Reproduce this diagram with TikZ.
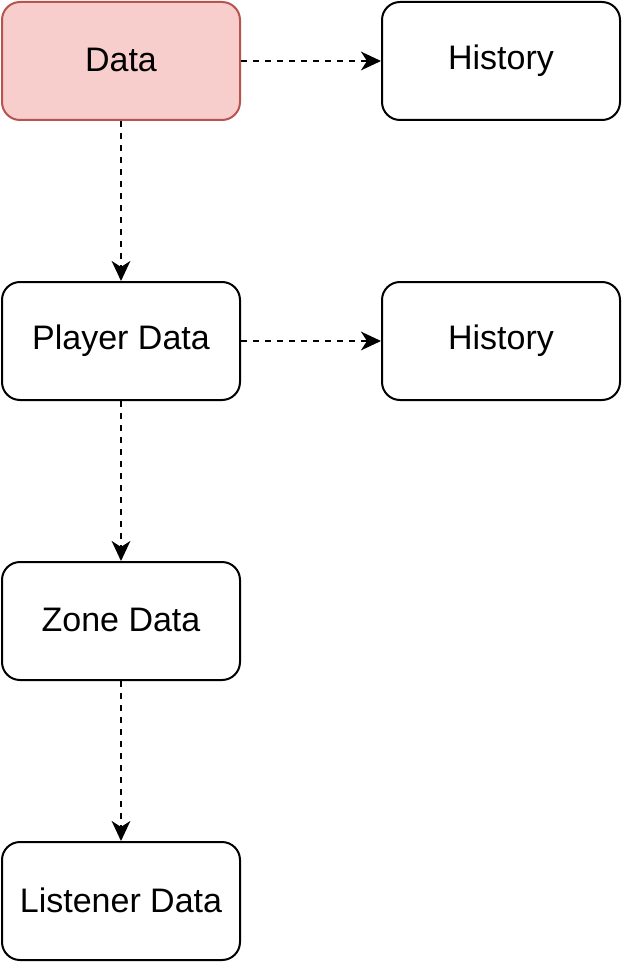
\documentclass[tikz,border=0pt]{standalone}
\usepackage{fontspec}
\setmainfont{Liberation Sans}
\usetikzlibrary{arrows.meta}
\definecolor{redfill}{HTML}{F8CECC}
\definecolor{redline}{HTML}{B85450}
\begin{document}
\begin{tikzpicture}[x=0.75pt, y=-0.75pt,
    box/.style={draw, line width=1.5pt, rounded corners=13.5pt, minimum width=178.5pt, minimum height=88.5pt, inner sep=0pt, font=\fontsize{25.5}{30}\selectfont},
    link/.style={line width=1.5pt, dash pattern=on 4.5pt off 4.5pt, -{Stealth[length=15pt, width=14pt, inset=4.5pt]}}]
    \useasboundingbox (0,0) rectangle (622,962);
    \node[box, fill=redfill, draw=redline] (data) at (121,61) {\raisebox{1.5pt}{Data}};
    \node[box] (hist) at (501,61) {\raisebox{1.5pt}{History}};
    \node[box] (player) at (121,341) {\raisebox{1.5pt}{Player Data}};
    \node[box] (phist) at (501,341) {\raisebox{1.5pt}{History}};
    \node[box] (zone) at (121,621) {\raisebox{1.5pt}{Zone Data}};
    \node[box] (listener) at (121,901) {\raisebox{1.5pt}{Listener Data}};
    \draw[link] (data) -- (hist);
    \draw[link] (data) -- (player);
    \draw[link] (player) -- (phist);
    \draw[link] (player) -- (zone);
    \draw[link] (zone) -- (listener);
\end{tikzpicture}
\end{document}
